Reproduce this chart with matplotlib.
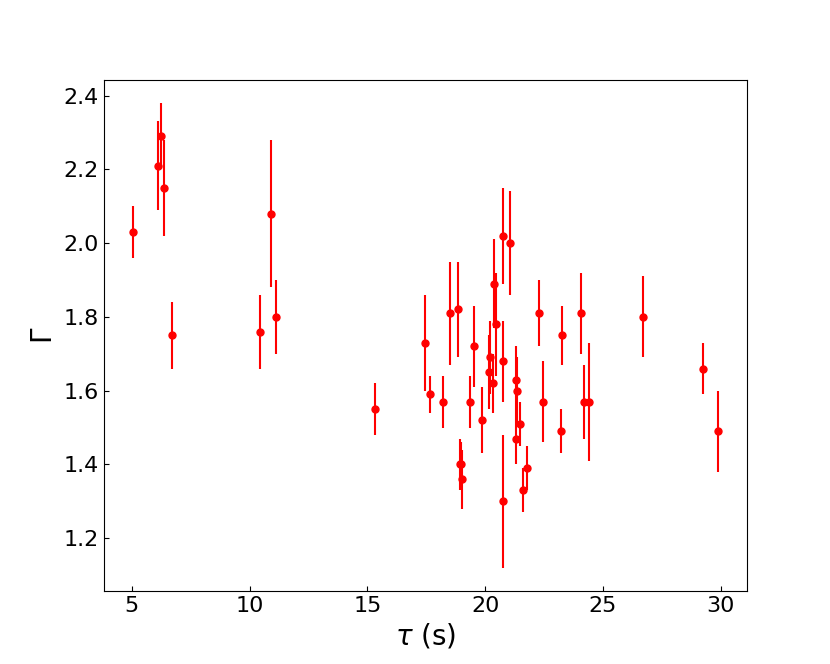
import numpy as np
import matplotlib.pyplot as plt

# decay time (s), photon index and its error
tau = [5.05, 6.13, 6.26, 6.36, 6.71, 10.45, 10.90, 11.14, 15.33,
       17.47, 17.68, 18.23, 18.52, 18.83, 18.94, 18.98, 19.01,
       19.37, 19.54, 19.87, 20.17, 20.21, 20.33, 20.37, 20.48,
       20.74, 20.74, 20.75, 21.05, 21.32, 21.32, 21.37, 21.50,
       21.62, 21.79, 22.27, 22.48, 23.23, 23.27, 24.07, 24.18,
       24.42, 26.72, 29.25, 29.88]
gamma = [2.03, 2.21, 2.29, 2.15, 1.75, 1.76, 2.08, 1.80, 1.55,
         1.73, 1.59, 1.57, 1.81, 1.82, 1.40, 1.40, 1.36,
         1.57, 1.72, 1.52, 1.65, 1.69, 1.62, 1.89, 1.78,
         1.68, 1.30, 2.02, 2.00, 1.63, 1.47, 1.60, 1.51,
         1.33, 1.39, 1.81, 1.57, 1.49, 1.75, 1.81, 1.57,
         1.57, 1.80, 1.66, 1.49]
gamma_err = [0.07, 0.12, 0.09, 0.13, 0.09, 0.10, 0.20, 0.10, 0.07,
             0.13, 0.05, 0.07, 0.14, 0.13, 0.07, 0.06, 0.08,
             0.07, 0.11, 0.09, 0.10, 0.10, 0.08, 0.12, 0.14,
             0.11, 0.18, 0.13, 0.14, 0.09, 0.07, 0.09, 0.06,
             0.06, 0.06, 0.09, 0.11, 0.06, 0.08, 0.11, 0.10,
             0.16, 0.11, 0.07, 0.11]

fig, ax = plt.subplots(figsize=(8.3, 6.64), dpi=100)
ax.errorbar(tau, gamma, yerr=gamma_err, fmt='o', color='red',
            ecolor='red', markersize=5, elinewidth=1.5, capsize=0)
ax.set_xlabel(r'$\tau$ (s)', fontsize=20)
ax.set_ylabel(r'$\Gamma$', fontsize=20)
ax.tick_params(direction='in', labelsize=16)

fig.savefig('out.png', dpi=100)
